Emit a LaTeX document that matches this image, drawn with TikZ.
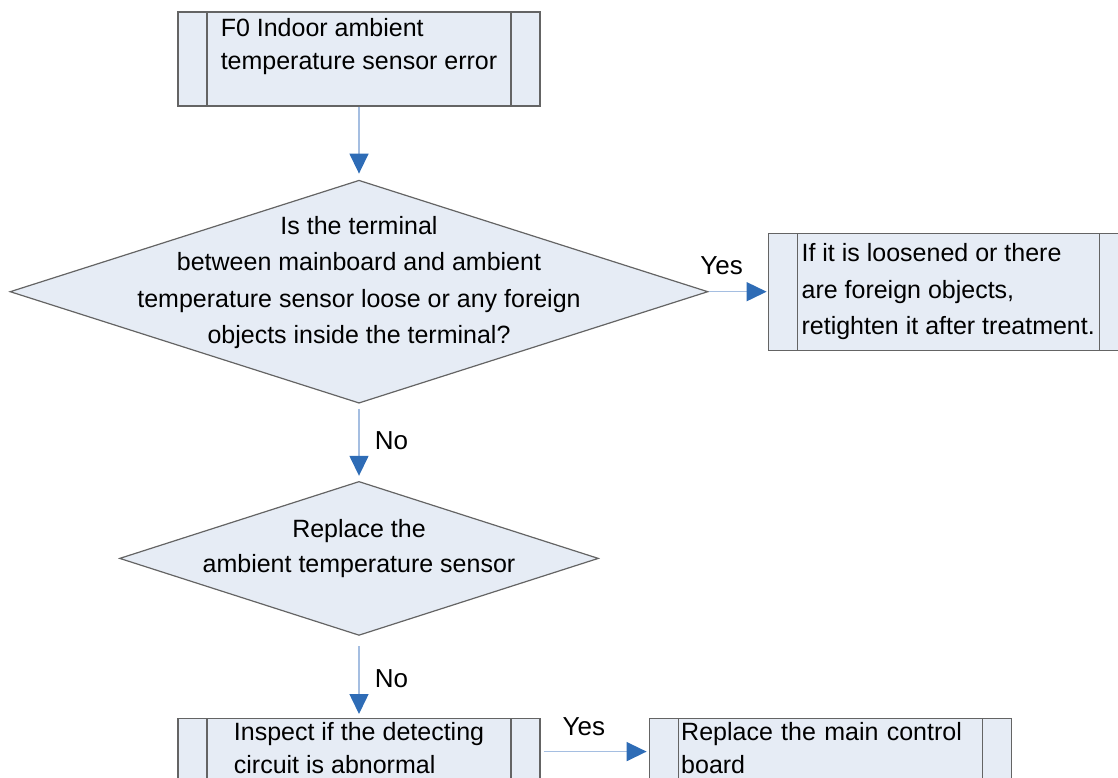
\documentclass[tikz,border=0pt]{standalone}
\usepackage{fontspec}
\setmainfont{Liberation Sans}
\usetikzlibrary{arrows.meta,positioning,shapes.geometric}

\definecolor{boxfill}{RGB}{230,236,245}
\definecolor{edgegray}{RGB}{100,100,100}
\definecolor{flowline}{RGB}{165,190,225}
\definecolor{flowhead}{RGB}{46,108,182}

\begin{document}
\begin{tikzpicture}[
    x=1pt, y=1pt,
    node distance=73pt and 59pt,
    proc/.style={draw=edgegray, fill=boxfill, line width=1.2pt, align=left,
                 minimum width=362pt, font=\fontsize{25}{33}\selectfont,
                 path picture={
                   \draw[edgegray, line width=1.2pt]
                     ([xshift=29pt]path picture bounding box.north west) -- ([xshift=29pt]path picture bounding box.south west)
                     ([xshift=-29pt]path picture bounding box.north east) -- ([xshift=-29pt]path picture bounding box.south east);}},
    decision/.style={diamond, draw=edgegray, fill=boxfill, line width=1.2pt, inner sep=0pt},
    dtext/.style={align=center, font=\fontsize{25}{36.5}\selectfont},
    flow/.style={draw=flowline, line width=1.5pt,
                 -{Triangle[color=flowhead, length=20pt, width=19pt]}},
    tag/.style={font=\fontsize{26}{30}\selectfont, inner sep=0pt}
  ]
    \useasboundingbox (0,0) rectangle (1118,-778);

    % main column
    \node[proc, text height=58pt, text depth=36pt, inner ysep=0pt] (f0) at (359,-59)
        {F0 Indoor ambient\\temperature sensor error};
    \node[decision, minimum width=698pt, minimum height=223pt, below=73pt of f0,
          label={[dtext, yshift=9pt]center:{Is the terminal\\between mainboard and ambient\\temperature sensor loose or any foreign\\objects inside the terminal?}}] (q1) {};
    \node[decision, minimum width=479pt, minimum height=154pt, below=77pt of q1,
          label={[dtext, font=\fontsize{25}{35}\selectfont, yshift=10pt]center:{Replace the\\ambient temperature sensor}}] (q2) {};
    \node[proc, text height=55pt, text depth=11pt, inner ysep=0pt, below=82pt of q2] (chk)
        {Inspect if the detecting\\circuit is abnormal};

    % side boxes
    \node[proc, minimum width=360pt, minimum height=117pt, right=59pt of q1,
          font=\fontsize{25}{36.5}\selectfont] (fix)
        {If it is loosened or there\\are foreign objects,\\retighten it after treatment.};
    \node[proc, text width=298pt, text height=22pt, text depth=44pt, inner ysep=0pt,
          right=108pt of chk] (rpl)
        {Replace the main control\\board};

    % arrows
    \draw[flow, shorten >=6pt] (f0) -- (q1);
    \draw[flow, shorten <=5pt, shorten >=5pt] (q1) -- (q2)
        node[tag, right=15pt, pos=0.48] {No};
    \draw[flow, shorten <=10pt, shorten >=4pt] (q2) -- (chk)
        node[tag, right=15pt, pos=0.52] {No};
    \draw[flow, shorten >=1pt] (q1) -- (fix)
        node[tag, above=16pt, pos=0.22] {Yes};
    \draw[flow, shorten <=3pt, shorten >=2pt] (chk) -- (rpl)
        node[tag, above=15pt, pos=0.4] {Yes};
\end{tikzpicture}
\end{document}
